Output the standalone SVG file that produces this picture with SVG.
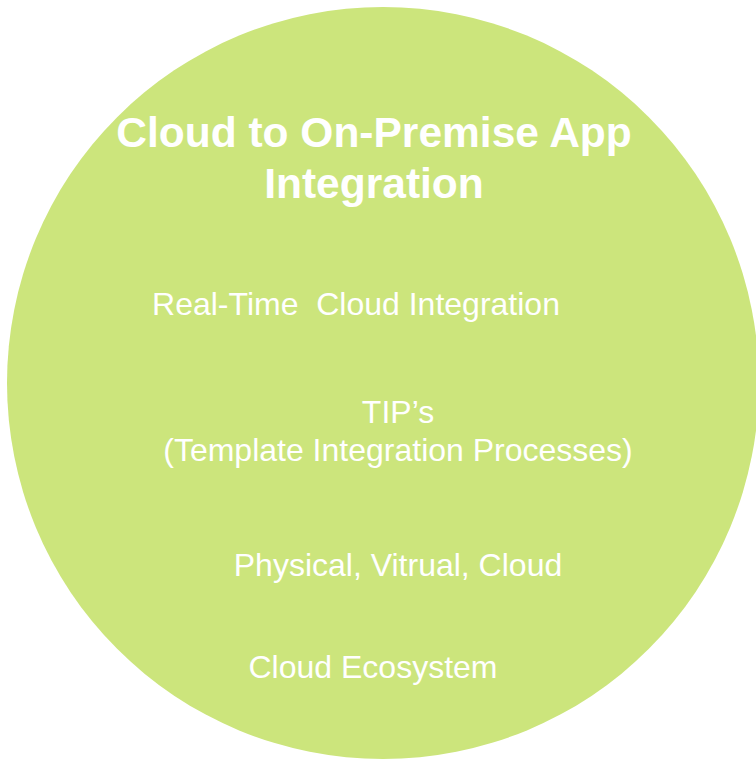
<svg xmlns="http://www.w3.org/2000/svg" width="756" height="760" viewBox="0 0 756 760">
<style>
.t{fill:#ffffff;font-family:"Liberation Sans",Arial,sans-serif;text-anchor:middle}
.b{font-weight:bold;font-size:42.5px}
.r{font-size:32px}
</style>
<rect width="756" height="760" fill="#ffffff"/>
<g id="circle">
<circle cx="383" cy="383" r="376" fill="#cce57c"/>
</g>
<g id="title">
<text class="t b" x="374" y="147">Cloud to On-Premise App</text>
<text class="t b" x="374" y="198">Integration</text>
</g>
<g id="realtime">
<text class="t r" x="356" y="315" xml:space="preserve">Real-Time  Cloud Integration</text>
</g>
<g id="tips">
<text class="t r" x="398" y="423">TIP’s</text>
<text class="t r" x="398" y="461">(Template Integration Processes)</text>
</g>
<g id="physical">
<text class="t r" x="398" y="576">Physical, Vitrual, Cloud</text>
</g>
<g id="ecosystem">
<text class="t r" x="373" y="678">Cloud Ecosystem</text>
</g>
<g id="connectors"/>
</svg>
